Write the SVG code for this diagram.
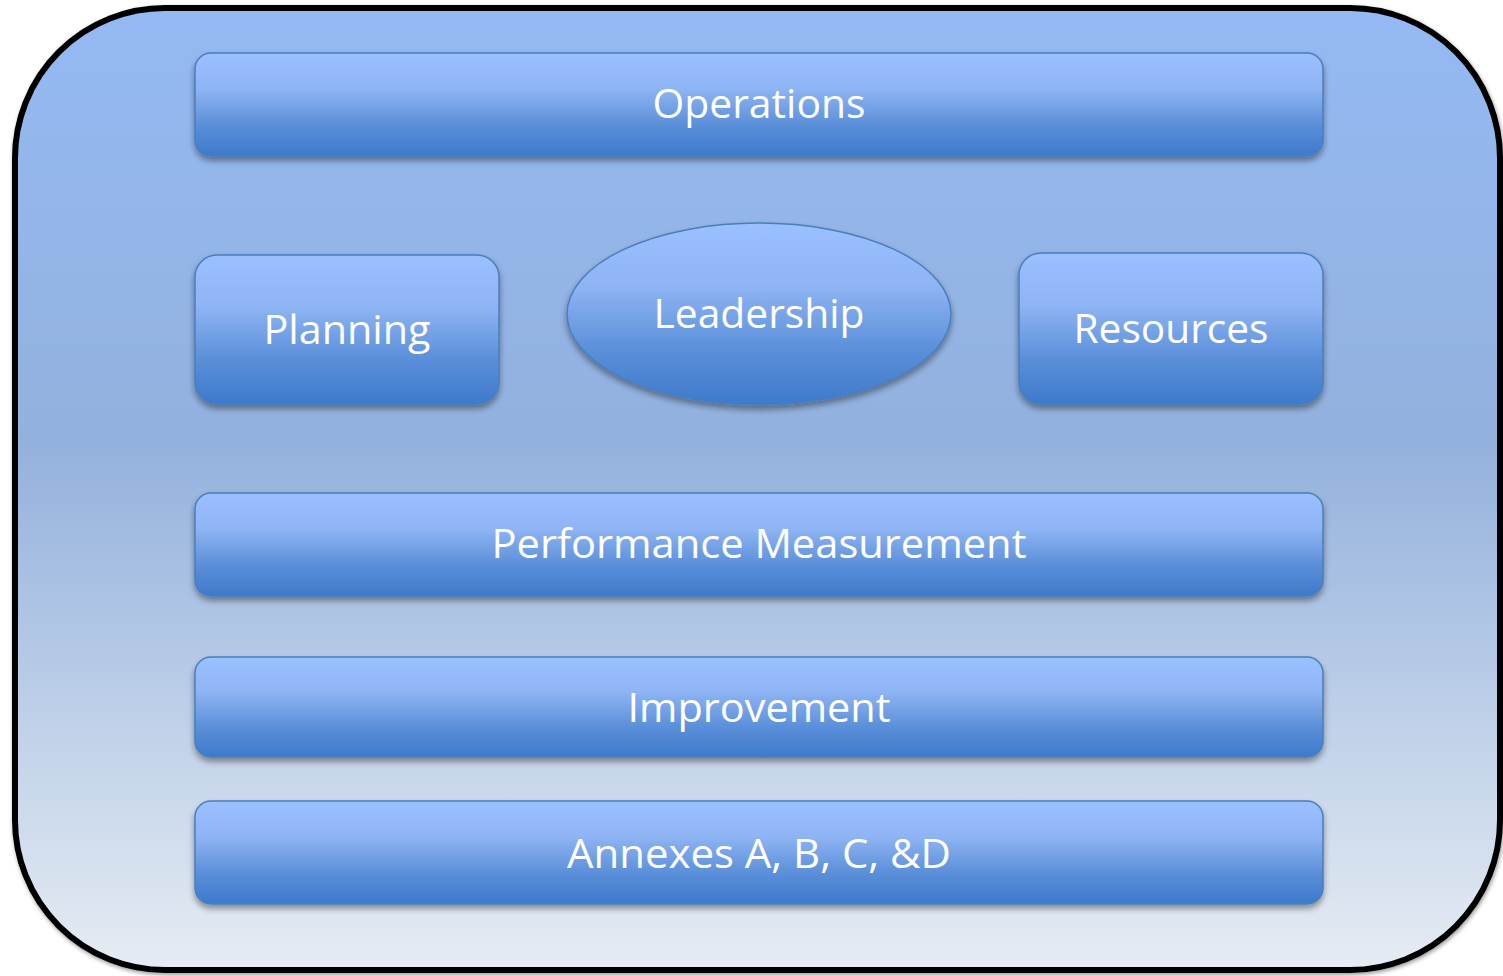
<svg xmlns="http://www.w3.org/2000/svg" width="1503" height="976" viewBox="0 0 1503 976">
<defs>
<linearGradient id="bg" x1="0" y1="0" x2="0" y2="1">
<stop offset="0" stop-color="#94b9f4"/>
<stop offset="0.45" stop-color="#93b1dd"/>
<stop offset="1" stop-color="#e6ecf3"/>
</linearGradient>
<linearGradient id="box" x1="0" y1="0" x2="0" y2="1">
<stop offset="0" stop-color="#9ac0ff"/>
<stop offset="0.35" stop-color="#8eb4f3"/>
<stop offset="0.7" stop-color="#5b8fd9"/>
<stop offset="1" stop-color="#3d7acb"/>
</linearGradient>
<filter id="sh" x="-10%" y="-20%" width="120%" height="150%">
<feGaussianBlur in="SourceAlpha" stdDeviation="3"/>
<feOffset dx="0" dy="4" result="b"/>
<feComponentTransfer><feFuncA type="linear" slope="0.4"/></feComponentTransfer>
<feMerge><feMergeNode/><feMergeNode in="SourceGraphic"/></feMerge>
</filter>
<filter id="osh" x="-5%" y="-5%" width="110%" height="110%">
<feGaussianBlur in="SourceAlpha" stdDeviation="2"/>
<feOffset dx="1" dy="2"/>
<feComponentTransfer><feFuncA type="linear" slope="0.4"/></feComponentTransfer>
<feMerge><feMergeNode/><feMergeNode in="SourceGraphic"/></feMerge>
</filter>
</defs>
<style>
.n{fill:url(#box);stroke:#4a7ebb;stroke-width:1.5;filter:url(#sh)}
.t{font-family:"Open Sans","Noto Sans",sans-serif;font-size:40px;fill:#ffffff;text-anchor:middle}
</style>
<rect id="frame" x="15" y="8" width="1485" height="962" rx="150" ry="150" fill="url(#bg)" stroke="#000" stroke-width="6" filter="url(#osh)"/>
<g id="operations"><rect class="n" x="195" y="53" width="1128" height="103" rx="16"/><text class="t" x="759" y="118" textLength="213" lengthAdjust="spacingAndGlyphs">Operations</text></g>
<g id="planning"><rect class="n" x="195" y="255" width="304" height="149" rx="22"/><text class="t" x="347" y="344" textLength="167" lengthAdjust="spacingAndGlyphs">Planning</text></g>
<g id="leadership"><ellipse class="n" cx="759" cy="314" rx="192" ry="91"/><text class="t" x="759" y="328" textLength="211" lengthAdjust="spacingAndGlyphs">Leadership</text></g>
<g id="resources"><rect class="n" x="1019" y="253" width="304" height="151" rx="22"/><text class="t" x="1171" y="343" textLength="195" lengthAdjust="spacingAndGlyphs">Resources</text></g>
<g id="performance"><rect class="n" x="195" y="493" width="1128" height="103" rx="16"/><text class="t" x="759" y="558" textLength="535" lengthAdjust="spacingAndGlyphs">Performance Measurement</text></g>
<g id="improvement"><rect class="n" x="195" y="657" width="1128" height="100" rx="16"/><text class="t" x="759" y="722" textLength="263" lengthAdjust="spacingAndGlyphs">Improvement</text></g>
<g id="annexes"><rect class="n" x="195" y="801" width="1128" height="103" rx="16"/><text class="t" x="759" y="868" textLength="384" lengthAdjust="spacingAndGlyphs">Annexes A, B, C, &amp;D</text></g>
<g id="connectors"></g>
</svg>
